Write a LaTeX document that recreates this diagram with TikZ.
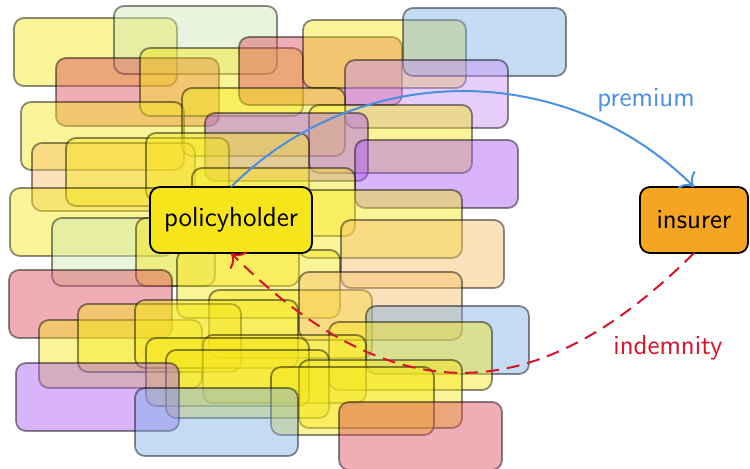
\documentclass[tikz,border=0pt]{standalone}
\usetikzlibrary{positioning,arrows.meta}

\definecolor{cyellow}{RGB}{245,230,26}
\definecolor{cpink}{RGB}{219,73,91}
\definecolor{cpurple}{RGB}{168,88,244}
\definecolor{clavender}{RGB}{199,144,244}
\definecolor{cblue}{RGB}{126,175,228}
\definecolor{cgreen}{RGB}{204,233,177}
\definecolor{cpeach}{RGB}{246,191,104}
\definecolor{phyellow}{RGB}{247,229,28}
\definecolor{insorange}{RGB}{244,166,35}
\definecolor{premblue}{RGB}{74,144,226}
\definecolor{indred}{RGB}{215,20,44}

\begin{document}
\begin{tikzpicture}[
	x=0.5pt, y=-0.5pt,
	font=\sffamily\fontsize{13.8}{16}\selectfont,
	crowd/.style = {
		draw=black, draw opacity=0.45, line width=0.9pt,
		fill opacity=0.45, rounded corners=5pt},
	party/.style = {
		draw, rectangle, rounded corners=5pt, line width=0.9pt,
		minimum height=33pt, inner sep=2pt, outer sep=0pt},
	arrow/.style = {line width=1pt, -{To[scale=1.5]}}
]
\useasboundingbox (0,0) rectangle (750,469);

% the other policyholders
\foreach \x/\y/\col in {
	14/18/cyellow, 114/6/cgreen, 56/58/cpink, 140/48/cyellow,
	239/37/cpink, 303/20/cyellow, 403/8/cblue, 345/60/clavender,
	21/102/cyellow, 182/88/cyellow, 309/105/cyellow, 205/113/cpurple,
	355/140/cpurple, 32/143/cpeach, 66/138/cyellow, 146/133/cyellow,
	192/168/cyellow, 10/188/cyellow, 299/190/cyellow, 341/220/cpeach,
	52/218/cgreen, 136/218/cyellow, 177/250/cyellow, 9/270/cpink,
	209/290/cyellow, 299/272/cpeach, 39/320/cyellow, 78/304/cyellow,
	135/300/cyellow, 366/306/cblue, 329/322/cyellow, 203/335/cyellow,
	146/338/cyellow, 166/350/cyellow, 299/360/cyellow, 271/367/cyellow,
	16/363/cpurple, 135/388/cblue, 339/402/cpink}
	\draw[crowd, fill=\col] (\x,\y) rectangle ++(163,68);

\node (n1) [party, fill=phyellow, minimum width=81pt] at (231,220) {policyholder};
\node (n2) [party, fill=insorange, minimum width=54pt, right=164pt of n1] {insurer};

\node (l1) [text=premblue] at (646,100) {premium};
\node (l2) [text=indred] at (668,348) {indemnity};

\draw[arrow, premblue] (n1.north) to[bend left=45] (n2.north);
\draw[arrow, indred, dash pattern=on 6.5pt off 4pt]
	(n2.south) to[bend left=45, looseness=1.25] (n1.south);
\end{tikzpicture}
\end{document}
